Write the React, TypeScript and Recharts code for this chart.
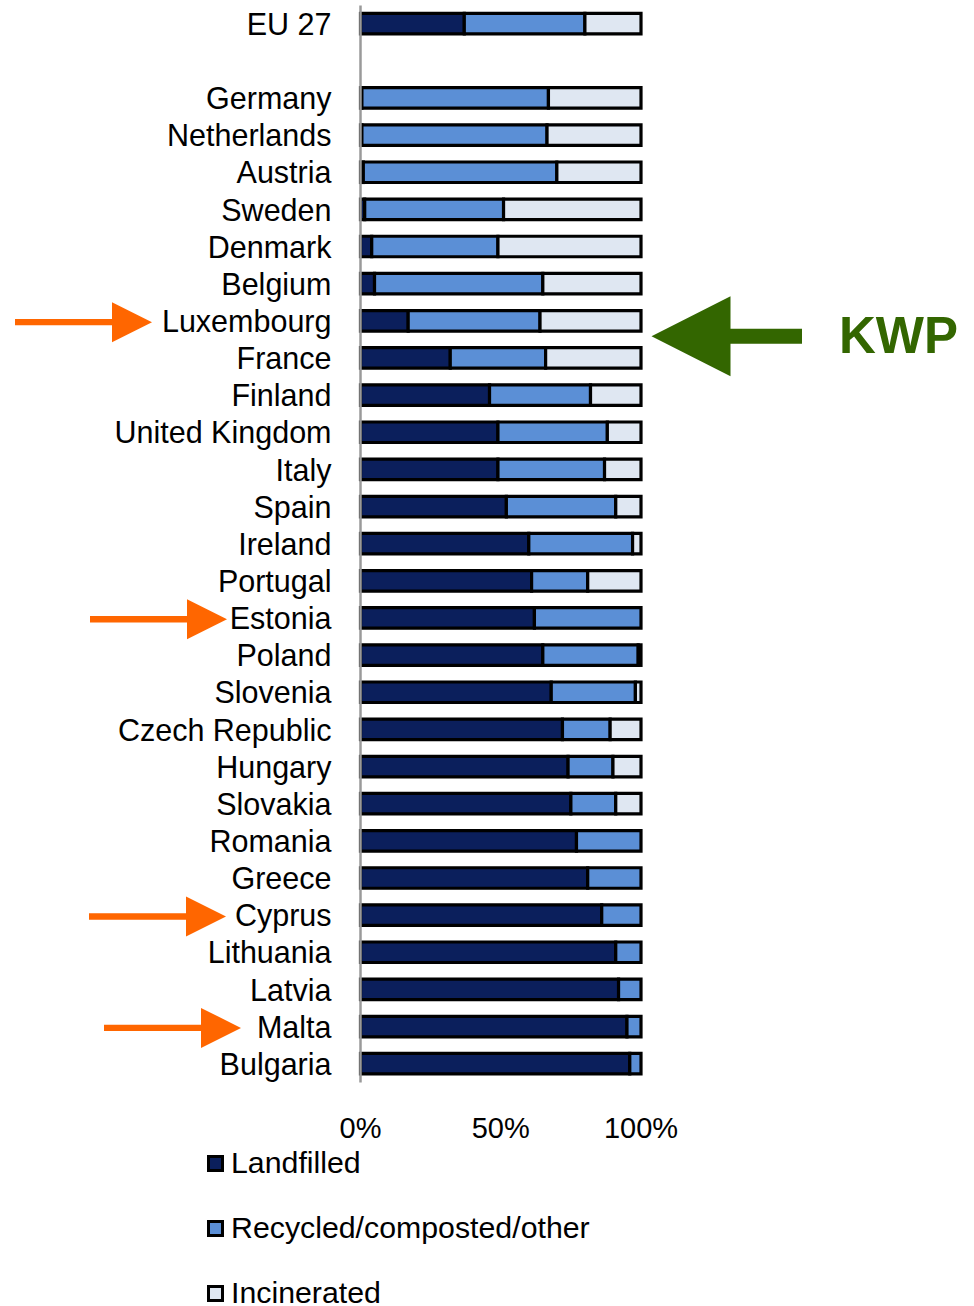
import React from 'react';
import { BarChart, Bar, XAxis, YAxis, Legend } from 'recharts';

const countries = [
  'EU 27', '', 'Germany', 'Netherlands', 'Austria', 'Sweden', 'Denmark', 'Belgium',
  'Luxembourg', 'France', 'Finland', 'United Kingdom', 'Italy', 'Spain', 'Ireland',
  'Portugal', 'Estonia', 'Poland', 'Slovenia', 'Czech Republic', 'Hungary', 'Slovakia',
  'Romania', 'Greece', 'Cyprus', 'Lithuania', 'Latvia', 'Malta', 'Bulgaria'
];

const landfilled = [37, null, 0.5, 0.5, 1, 1.5, 4, 5, 17, 32, 46, 49, 49, 52, 60, 61, 62, 65, 68, 72, 74, 75, 77, 81, 86, 91, 92, 95, 96];
const recycled = [43, null, 66.5, 66, 69, 49.5, 45, 60, 47, 34, 36, 39, 38, 39, 37, 20, 38, 34, 30, 17, 16, 16, 23, 19, 14, 9, 8, 5, 4];
const incinerated = [20, null, 33, 33.5, 30, 49, 51, 35, 36, 34, 18, 12, 13, 9, 3, 19, 0, 1, 2, 11, 10, 9, 0, 0, 0, 0, 0, 0, 0];

const xTicks = [0, 50, 100];
const legendOrder = ['Landfilled', 'Recycled/composted/other', 'Incinerated'];

// annotations: orange arrows point at these labels (tip x), green KWP arrow at Luxembourg
const orangeArrowTips: Record<string, number> = {
  Luxembourg: 152,
  Estonia: 227,
  Cyprus: 226,
  Malta: 241,
};
const kwpCountry = 'Luxembourg';

const data = countries.map((name, i) => ({
  name,
  landfilled: landfilled[i],
  recycled: recycled[i],
  incinerated: incinerated[i],
}));

const FONT = '"Liberation Sans", Arial, sans-serif';
const ORANGE = '#ff6600';
const GREEN = '#336600';

const CountryTick = (props: any) => {
  const { x, y, payload } = props;
  const name = payload.value as string;
  const tip = orangeArrowTips[name];
  return (
    <g>
      {tip !== undefined && (
        <polygon
          fill={ORANGE}
          points={`${tip - 137},${y - 2.2} ${tip - 40},${y - 2.2} ${tip - 40},${y - 19} ${tip},${y + 1} ${tip - 40},${y + 21} ${tip - 40},${y + 4.2} ${tip - 137},${y + 4.2}`}
        />
      )}
      {name === kwpCountry && (
        <g>
          <polygon
            fill={GREEN}
            points={`651.5,${y + 15} 730.5,${y - 25} 730.5,${y + 7.5} 802,${y + 7.5} 802,${y + 22.5} 730.5,${y + 22.5} 730.5,${y + 55}`}
          />
          <text x={839} y={y + 31.5} fill={GREEN} fontSize={51} fontWeight="bold" fontFamily={FONT}>
            KWP
          </text>
        </g>
      )}
      <text x={x} y={y} dy="0.355em" textAnchor="end" fontSize={30.5} fill="#000" fontFamily={FONT}>
        {name}
      </text>
    </g>
  );
};

const renderLegend = (props: any) => {
  const items = [...(props.payload || [])].sort(
    (a: any, b: any) => legendOrder.indexOf(a.value) - legendOrder.indexOf(b.value)
  );
  return (
    <div style={{ fontFamily: FONT }}>
      {items.map((entry: any) => (
        <div key={entry.value} style={{ height: 65, display: 'flex', alignItems: 'center' }}>
          <span
            style={{
              display: 'inline-block',
              width: 11,
              height: 11,
              background: entry.color,
              border: '3px solid #000',
              marginRight: 7,
            }}
          />
          <span style={{ fontSize: 30.3, color: '#000', lineHeight: '22px' }}>{entry.value}</span>
        </div>
      ))}
    </div>
  );
};

export default function App() {
  return (
    <div style={{ position: 'absolute', left: 0, top: 0, width: 974, height: 1306, background: '#fff' }}>
      <BarChart
        width={974}
        height={1306}
        data={data}
        layout="vertical"
        margin={{ top: 5.4, right: 333, bottom: 193.4, left: 0 }}
        barSize={20.5}
      >
        <XAxis
          type="number"
          domain={[0, 100]}
          ticks={xTicks}
          tickFormatter={(v: number) => `${v}%`}
          axisLine={false}
          tickLine={false}
          tickSize={0}
          tickMargin={35}
          height={30}
          tick={{ fontSize: 29, fill: '#000', fontFamily: FONT }}
        />
        <YAxis
          type="category"
          dataKey="name"
          width={360.5}
          interval={0}
          tickLine={false}
          tickSize={0}
          tickMargin={29}
          axisLine={{ stroke: '#9a9a9a', strokeWidth: 2.5 }}
          tick={<CountryTick />}
        />
        <Legend
          layout="vertical"
          align="center"
          verticalAlign="middle"
          content={renderLegend}
          wrapperStyle={{ left: 207, top: 1130.5, width: 500 }}
        />
        <Bar dataKey="landfilled" name="Landfilled" stackId="a" fill="#0b1f5c" stroke="#000" strokeWidth={3.2} isAnimationActive={false} />
        <Bar dataKey="recycled" name="Recycled/composted/other" stackId="a" fill="#5b8fd6" stroke="#000" strokeWidth={3.2} isAnimationActive={false} />
        <Bar dataKey="incinerated" name="Incinerated" stackId="a" fill="#dfe7f2" stroke="#000" strokeWidth={3.2} isAnimationActive={false} />
      </BarChart>
    </div>
  );
}
